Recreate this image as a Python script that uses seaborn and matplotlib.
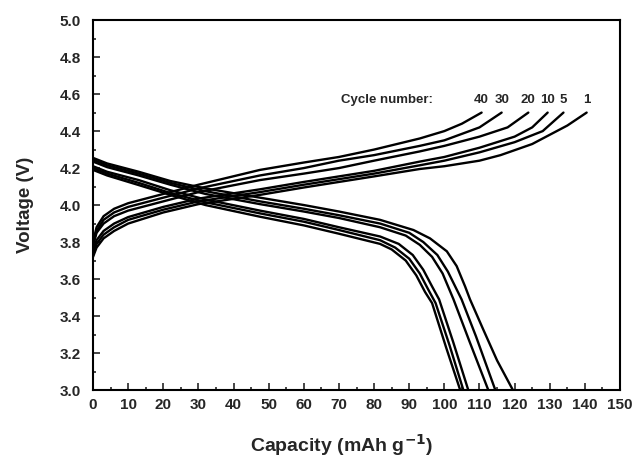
import numpy as np
import pandas as pd
import matplotlib
matplotlib.use("Agg")
import matplotlib.pyplot as plt
from matplotlib.ticker import MultipleLocator, FormatStrFormatter
import seaborn as sns

sns.set_style("ticks")
plt.rcParams["font.family"] = ["Liberation Sans", "DejaVu Sans"]
plt.rcParams["font.weight"] = "bold"

cycles = [1, 5, 10, 20, 30, 40]

# charge curves (capacity mAh/g, voltage V)
chg_cap = {
    40: [0, 1, 3, 6, 10, 20, 30, 47.5, 60, 70, 80, 93, 100, 105, 110.6],
    30: [0, 1, 3, 6, 10, 20, 30, 47.5, 60, 70, 80, 93, 100, 110, 116.3],
    20: [0, 1, 3, 6, 10, 20, 30, 47.5, 60, 70, 80, 93, 100, 110, 118, 123.9],
    10: [0, 1, 3, 6, 10, 20, 30, 47.5, 60, 70, 80, 93, 100, 110, 120, 125, 129.4],
    5:  [0, 1, 3, 6, 10, 20, 30, 47.5, 60, 70, 80, 93, 100, 110, 120, 128, 133.9],
    1:  [0, 1, 3, 6, 10, 20, 30, 47.5, 60, 70, 80, 93, 100, 110, 116, 125, 135, 140.5],
}
chg_v = {
    40: [3.80, 3.88, 3.94, 3.98, 4.01, 4.06, 4.11, 4.19, 4.23, 4.26, 4.30, 4.36, 4.40, 4.44, 4.50],
    30: [3.79, 3.86, 3.92, 3.96, 3.99, 4.04, 4.09, 4.16, 4.20, 4.24, 4.27, 4.32, 4.35, 4.42, 4.50],
    20: [3.78, 3.85, 3.90, 3.94, 3.97, 4.02, 4.07, 4.135, 4.17, 4.20, 4.24, 4.29, 4.32, 4.37, 4.42, 4.50],
    10: [3.75, 3.81, 3.86, 3.90, 3.935, 3.99, 4.035, 4.085, 4.125, 4.155, 4.185, 4.235, 4.26, 4.31, 4.37, 4.42, 4.50],
    5:  [3.73, 3.79, 3.84, 3.88, 3.92, 3.975, 4.02, 4.07, 4.11, 4.14, 4.17, 4.215, 4.24, 4.285, 4.34, 4.40, 4.50],
    1:  [3.72, 3.77, 3.82, 3.86, 3.90, 3.96, 4.005, 4.055, 4.095, 4.125, 4.155, 4.195, 4.21, 4.24, 4.27, 4.33, 4.43, 4.50],
}

# discharge curves
dis_cap = {
    1:  [0, 4, 13, 22, 32, 47.5, 60, 70, 81.7, 91.2, 95.9, 100.7, 103.5, 105.9, 107.3, 111, 115, 119.5],
    5:  [0, 4, 13, 22, 32, 47.5, 60, 70, 81.7, 90, 94, 98, 101, 104.9, 109, 114.5],
    10: [0, 4, 13, 22, 32, 47.5, 60, 70, 81.7, 89, 93, 96.5, 99.5, 102.6, 107, 112.5],
    20: [0, 4, 13, 22, 32, 47.5, 60, 70, 81.7, 87, 91, 94, 96.5, 98.5, 102.5, 106.8],
    30: [0, 4, 13, 22, 32, 47.5, 60, 70, 81.7, 86, 90, 93, 95.5, 97.5, 101.5, 105.4],
    40: [0, 4, 13, 22, 32, 47.5, 60, 70, 81.7, 85, 89, 92, 94.5, 96.5, 100.5, 104.5],
}
dis_v = {
    1:  [4.255, 4.225, 4.18, 4.13, 4.09, 4.04, 4.00, 3.965, 3.92, 3.865, 3.82, 3.75, 3.67, 3.56, 3.49, 3.33, 3.16, 3.00],
    5:  [4.245, 4.215, 4.17, 4.12, 4.075, 4.02, 3.98, 3.945, 3.90, 3.85, 3.80, 3.73, 3.64, 3.49, 3.29, 3.00],
    10: [4.235, 4.205, 4.16, 4.11, 4.06, 4.005, 3.965, 3.93, 3.88, 3.835, 3.785, 3.72, 3.63, 3.49, 3.27, 3.00],
    20: [4.21, 4.18, 4.135, 4.08, 4.03, 3.97, 3.925, 3.88, 3.83, 3.79, 3.73, 3.65, 3.56, 3.49, 3.26, 3.00],
    30: [4.20, 4.17, 4.12, 4.065, 4.015, 3.955, 3.91, 3.865, 3.81, 3.77, 3.71, 3.63, 3.54, 3.47, 3.24, 3.00],
    40: [4.19, 4.16, 4.108, 4.055, 4.00, 3.937, 3.89, 3.845, 3.79, 3.76, 3.70, 3.62, 3.53, 3.47, 3.23, 3.00],
}

rows = []
for c in cycles:
    for x, y in zip(chg_cap[c], chg_v[c]):
        rows.append(("chg%d" % c, x, y))
    for x, y in zip(dis_cap[c], dis_v[c]):
        rows.append(("dis%d" % c, x, y))
df = pd.DataFrame(rows, columns=["curve", "Capacity", "Voltage"])

fig = plt.figure(figsize=(6.33, 4.57), dpi=100)
ax = fig.add_axes([0.147, 0.1466, 0.8325, 0.8094])

sns.lineplot(data=df, x="Capacity", y="Voltage", units="curve", estimator=None,
             color="black", lw=1.7, sort=False, ax=ax)

# cycle labels at the end of each charge curve
ax.text(70.5, 4.568, "Cycle number:", fontsize=9.5, fontweight="bold", va="center", ha="left")
for c in cycles:
    ax.text(chg_cap[c][-1], 4.568, str(c), fontsize=9.5, fontweight="bold",
            va="center", ha="center")

ax.set_xlim(0, 150)
ax.set_ylim(3.0, 5.0)
ax.xaxis.set_major_locator(MultipleLocator(10))
ax.xaxis.set_minor_locator(MultipleLocator(5))
ax.yaxis.set_major_locator(MultipleLocator(0.2))
ax.yaxis.set_minor_locator(MultipleLocator(0.1))
ax.yaxis.set_major_formatter(FormatStrFormatter("%.1f"))
ax.tick_params(which="both", direction="in", width=1.2, top=False, right=False)
ax.tick_params(which="major", length=5)
ax.tick_params(which="minor", length=2.5)
ax.tick_params(axis="y", pad=9, labelsize=11)
ax.tick_params(axis="x", pad=6, labelsize=11)
for lab in ax.get_xticklabels() + ax.get_yticklabels():
    lab.set_fontweight("bold")
for s in ax.spines.values():
    s.set_visible(True)
    s.set_linewidth(1.5)
    s.set_color("black")

ax.set_xlabel("Capacity (mAh g$^{\\mathbf{-1}}$)", fontsize=14, fontweight="bold", labelpad=14)
ax.xaxis.label.set_x(0.472)
ax.set_ylabel("Voltage (V)", fontsize=13.5, fontweight="bold", labelpad=18)

fig.savefig("out.png", dpi=100)
